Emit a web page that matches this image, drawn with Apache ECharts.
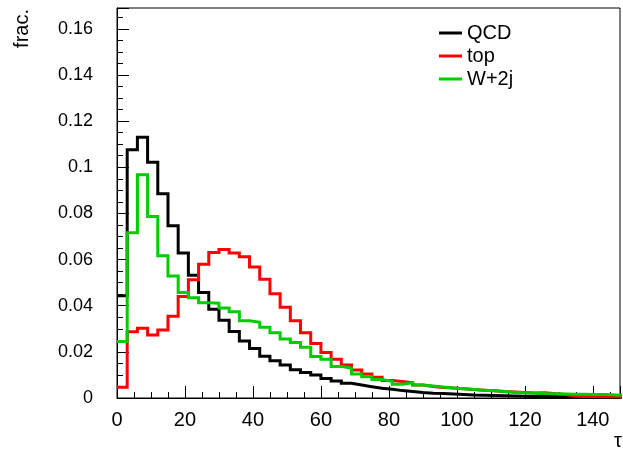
<!DOCTYPE html>
<html>
<head>
<meta charset="utf-8">
<script src="https://cdn.jsdelivr.net/npm/echarts@6/dist/echarts.min.js"></script>
<style>
html,body{margin:0;padding:0;background:#fff;}
#c{width:623px;height:462px;}
</style>
</head>
<body>
<div id="c"></div>
<script>
// Histogram: 50 bins of width 3 from 0 to 150 (tau)
const binWidth = 3;
const seriesNames = ['QCD', 'top', 'W+2j'];
const qcd = [
  0.0443, 0.1076, 0.1130, 0.1022, 0.0885, 0.0746, 0.0628, 0.0532, 0.0457, 0.0385,
  0.0337, 0.0288, 0.0247, 0.0215, 0.0181, 0.0161, 0.0143, 0.0122, 0.0110, 0.0100,
  0.0085, 0.0074, 0.0064, 0.0056, 0.0049, 0.0042, 0.0038, 0.0032, 0.0028, 0.0024,
  0.0021, 0.0019, 0.0017, 0.0015, 0.0013, 0.0012, 0.0011, 0.0010, 0.0009, 0.0008,
  0.0007, 0.0006, 0.0006, 0.0005, 0.0005, 0.0004, 0.0004, 0.0003, 0.0003, 0.0003
];
const top_ = [
  0.0047, 0.0287, 0.0302, 0.0273, 0.0295, 0.0354, 0.0440, 0.0512, 0.0580, 0.0630,
  0.0643, 0.0628, 0.0612, 0.0568, 0.0515, 0.0452, 0.0393, 0.0335, 0.0283, 0.0236,
  0.0197, 0.0168, 0.0143, 0.0121, 0.0104, 0.0090, 0.0076, 0.0071, 0.0066, 0.0056,
  0.0050, 0.0046, 0.0043, 0.0040, 0.0037, 0.0034, 0.0031, 0.0028, 0.0026, 0.0024,
  0.0022, 0.0023, 0.0018, 0.0015, 0.0008, 0.0006, 0.0006, 0.0005, 0.0005, 0.0005
];
const w2j = [
  0.0245, 0.0716, 0.0967, 0.0787, 0.0616, 0.0529, 0.0457, 0.0434, 0.0413, 0.0411,
  0.0390, 0.0374, 0.0335, 0.0328, 0.0307, 0.0283, 0.0256, 0.0240, 0.0220, 0.0180,
  0.0168, 0.0137, 0.0129, 0.0104, 0.0092, 0.0080, 0.0072, 0.0060, 0.0066, 0.0056,
  0.0052, 0.0048, 0.0043, 0.0040, 0.0037, 0.0034, 0.0031, 0.0028, 0.0025, 0.0023,
  0.0021, 0.0019, 0.0018, 0.0017, 0.0016, 0.0016, 0.0015, 0.0015, 0.0013, 0.0012
];
const xTickLabels = [0, 20, 40, 60, 80, 100, 120, 140];
const yTickLabels = ['0', '0.02', '0.04', '0.06', '0.08', '0.1', '0.12', '0.14', '0.16'];

function steps(vals) {
  const pts = [];
  vals.forEach((v, i) => {
    pts.push([i * binWidth, v]);
    pts.push([(i + 1) * binWidth, v]);
  });
  return pts;
}

const colors = ['#000000', '#ff0000', '#00cc00'];
const allData = [qcd, top_, w2j];
const font = 'Liberation Sans, Arial, Helvetica, sans-serif';

const chart = echarts.init(document.getElementById('c'), null, {renderer: 'canvas'});
chart.setOption({
  animation: false,
  backgroundColor: '#ffffff',
  grid: {left: 117, right: 1, top: 8, bottom: 64, show: true, borderColor: '#000', borderWidth: 1, backgroundColor: 'transparent'},
  legend: {
    data: seriesNames,
    orient: 'vertical',
    left: 434,
    top: 18,
    icon: 'rect',
    itemWidth: 23,
    itemHeight: 3,
    itemGap: 3,
    textStyle: {fontFamily: font, fontSize: 20, color: '#000', padding: [0, 0, 0, 0]},
    selectedMode: false
  },
  xAxis: {
    type: 'value',
    min: 0,
    max: 148,
    interval: 20,
    axisLine: {show: true, lineStyle: {color: '#000', width: 1}},
    axisTick: {show: true, inside: true, length: 12, lineStyle: {color: '#000'}},
    minorTick: {show: true, splitNumber: 4, length: 6, lineStyle: {color: '#000'}},
    splitLine: {show: false},
    axisLabel: {
      fontFamily: font, fontSize: 20, color: '#000', margin: 12,
      formatter: v => (xTickLabels.indexOf(Math.round(v)) >= 0 && Math.abs(v - Math.round(v)) < 1e-6) ? String(Math.round(v)) : ''
    }
  },
  yAxis: {
    type: 'value',
    min: 0,
    max: 0.169,
    interval: 0.02,
    axisLine: {show: true, lineStyle: {color: '#000', width: 1}},
    axisTick: {show: true, inside: true, length: 12, lineStyle: {color: '#000'}},
    minorTick: {show: true, splitNumber: 4, length: 6, lineStyle: {color: '#000'}},
    splitLine: {show: false},
    axisLabel: {
      fontFamily: font, fontSize: 18, color: '#000', margin: 24,
      formatter: v => {
        const k = Math.round(v / 0.02);
        if (Math.abs(v - k * 0.02) > 1e-6 || k < 0 || k >= yTickLabels.length) return '';
        return yTickLabels[k];
      }
    }
  },
  graphic: [
    {type: 'text', x: 22, y: 9, rotation: Math.PI / 2,
     style: {text: 'frac.', fontFamily: font, fontSize: 20, fill: '#000', align: 'right', verticalAlign: 'middle'}},
    {type: 'text', x: 622, y: 441,
     style: {text: 'τ', fontFamily: font, fontSize: 20, fill: '#000', align: 'right', verticalAlign: 'middle'}}
  ],
  series: seriesNames.map((name, i) => ({
    name: name,
    type: 'line',
    data: steps(allData[i]),
    symbol: 'none',
    showSymbol: false,
    clip: true,
    color: colors[i],
    itemStyle: {color: colors[i]},
    lineStyle: {color: colors[i], width: 3, join: 'miter', cap: 'butt'},
    z: 2 + i
  }))
});
</script>
</body>
</html>
